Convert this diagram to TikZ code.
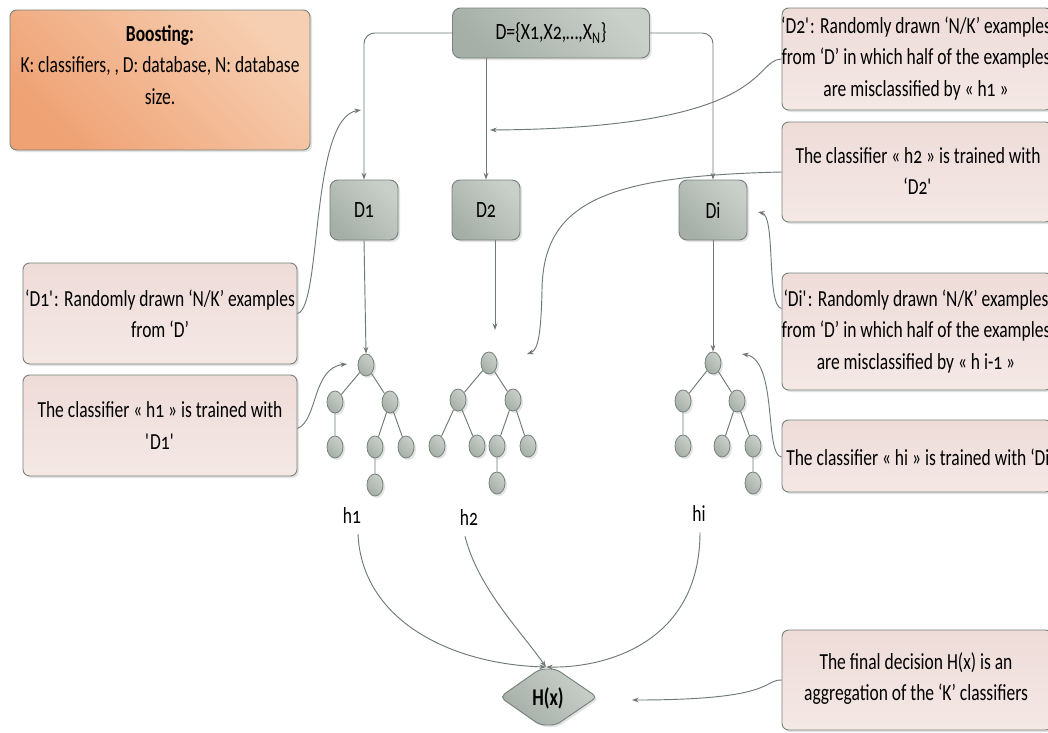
\documentclass[tikz,border=0pt]{standalone}
\usepackage{fontspec}
\setmainfont{Carlito}[FakeStretch=0.76, Numbers=OldStyle]
\usetikzlibrary{shapes.geometric,shadows,arrows.meta}

\definecolor{lineg}{HTML}{6F7A72}
\definecolor{edgeg}{HTML}{76827A}
\definecolor{greyA}{HTML}{A5AFA7}
\definecolor{greyB}{HTML}{C9D0CA}
\definecolor{pinkA}{HTML}{EEDCD8}
\definecolor{pinkB}{HTML}{F4E8E5}
\definecolor{orangeA}{HTML}{EFA274}
\definecolor{orangeB}{HTML}{F6CFB2}

\tikzset{
  txt/.style={font=\fontsize{17.25}{23.5}\selectfont, align=center, inner sep=0pt},
  shadowed/.style={drop shadow={opacity=0.22, shadow xshift=1.5pt, shadow yshift=-1.5pt}},
  greyfill/.style={shading=axis, left color=greyA, right color=greyB, shading angle=135},
  notebox/.style={draw=edgeg, line width=0.7pt, rounded corners=5pt, shadowed,
    top color=pinkA, bottom color=pinkB, minimum width=205.5pt, inner sep=0pt},
  rnotebox/.style={notebox, minimum width=202.5pt},
  databox/.style={draw=edgeg, line width=0.7pt, rounded corners=6pt, shadowed, greyfill,
    minimum width=51pt, minimum height=45pt, inner sep=0pt,
    font=\fontsize{17.5}{20}\selectfont},
  leaf/.style={ellipse, draw=edgeg, line width=0.6pt, shadowed, greyfill,
    minimum width=12pt, minimum height=16.5pt, inner sep=0pt},
  conn/.style={draw=lineg, line width=0.7pt, -{Stealth[length=5pt,width=3.6pt]}},
  branch/.style={draw=lineg, line width=0.7pt},
}

\begin{document}
\begin{tikzpicture}[x=0.75pt, y=-0.75pt]
\useasboundingbox (0,0) rectangle (1048,732);
\clip (0,0) rectangle (1048,732);
\fill[white] (0,0) rectangle (1048,732);

% legend box
\node[draw=edgeg, line width=0.7pt, rounded corners=5pt, shadowed, shading=axis,
  left color=orangeA, right color=orangeB, shading angle=135,
  minimum width=225pt, minimum height=105pt] (legend) at (160,80) {};
\node[txt] (legendtxt) at (160,65) {\textbf{Boosting:}\\K: classifiers, , D: database, N: database\\size.};

% data set and its samples
\node[databox, minimum width=147.75pt, minimum height=37.5pt] (Dall) at (551,33) {D=\{X1,X2,…,X\textsubscript{N}\}};
\node[databox] (D1) at (364,210) {D1};
\node[databox] (D2) at (486,210) {D2};
\node[databox] (Di) at (713,210) {Di};

\draw[conn, rounded corners=8pt] (Dall.west) -| (D1.north);
\draw[conn, rounded corners=8pt] (Dall.east) -| (Di.north);
\draw[conn] (Dall.south -| D2.north) -- (D2.north);

% tree h1
\node[leaf] (a0) at (366,365) {};
\node[leaf] (a1) at (335,402) {};
\node[leaf] (a2) at (390,402) {};
\node[leaf] (a3) at (335,447) {};
\node[leaf] (a4) at (375,447) {};
\node[leaf] (a5) at (406,447) {};
\node[leaf] (a6) at (375,485) {};
\draw[branch] (a0) -- (a1) (a0) -- (a2) (a1) -- (a3) (a2) -- (a4) (a2) -- (a5) (a4) -- (a6);

% tree h2
\node[leaf] (b0) at (489,363) {};
\node[leaf] (b1) at (458,400) {};
\node[leaf] (b2) at (513,400) {};
\node[leaf] (b3) at (437,446) {};
\node[leaf] (b4) at (477,446) {};
\node[leaf] (b5) at (497,446) {};
\node[leaf] (b6) at (528,446) {};
\node[leaf] (b7) at (497,483) {};
\draw[branch] (b0) -- (b1) (b0) -- (b2) (b1) -- (b3) (b1) -- (b4) (b2) -- (b5) (b2) -- (b6) (b5) -- (b7);

% tree hi
\node[leaf] (c0) at (713,363) {};
\node[leaf] (c1) at (683,401) {};
\node[leaf] (c2) at (737,401) {};
\node[leaf] (c3) at (683,446) {};
\node[leaf] (c4) at (722,446) {};
\node[leaf] (c5) at (753,446) {};
\node[leaf] (c6) at (753,483) {};
\draw[branch] (c0) -- (c1) (c0) -- (c2) (c1) -- (c3) (c2) -- (c4) (c2) -- (c5) (c5) -- (c6);

% samples feed the trees
\coordinate (t2in) at (495,330);
\draw[conn] (D1.south) -- (a0.north);
\draw[conn] (D2.south -| t2in) -- (t2in);
\draw[conn] (Di.south) -- (c0.north);

% classifier labels
\node[txt] (h1) at (352,516) {h1};
\node[txt] (h2) at (469,518) {h2};
\node[txt] (hi) at (699,514) {hi};

% aggregation: flattened hexagon
\path[draw=edgeg, line width=0.7pt, rounded corners=4pt, shadowed, greyfill]
  (500,697) -- (540,669) -- (556,669) -- (597,697) -- (556,725) -- (540,725) -- cycle;
\node[font=\fontsize{18}{20}\selectfont\bfseries, inner sep=0pt] (H) at (548,698) {H(x)};
\coordinate (Htop) at (546,667);
\coordinate (Hright) at (632,700);

\draw[conn] (h1.south) ++(6,10) .. controls (362,620) and (450,664) .. (Htop);
\draw[conn] (h2.south) ++(-4,10) .. controls (478,588) and (520,630) .. (Htop);
\draw[conn] (hi.south) ++(1,10) .. controls (700,640) and (610,668) .. (Htop);

% explanatory notes, left
\node[notebox, minimum height=75.75pt] (n1) at (160,313.5) {};
\node[txt] (n1t) at (160,313.5) {‘D1\textquotesingle: Randomly drawn ‘N/K’ examples\\from ‘D’};
\node[notebox, minimum height=75.75pt] (n2) at (160,425.5) {};
\node[txt] (n2t) at (160,425.5) {The classifier « h1 » is trained with\\\textquotesingle D1\textquotesingle};

% explanatory notes, right (they run past the right margin)
\node[rnotebox, minimum height=76.5pt] (n3) at (917,59) {};
\node[txt] (n3t) at (916,58.5) {‘D2\textquotesingle: Randomly drawn ‘N/K’ examples\\from ‘D’ in which half of the examples\\are misclassified by « h1 »};
\node[rnotebox, minimum height=75pt] (n4) at (917,172) {};
\node[txt] (n4t) at (918,171) {The classifier « h2 » is trained with\\‘D2\textquotesingle};
\node[rnotebox, minimum height=87.75pt] (n5) at (917,331.5) {};
\node[txt] (n5t) at (916,331.5) {‘Di\textquotesingle: Randomly drawn ‘N/K’ examples\\from ‘D’ in which half of the examples\\are misclassified by « h i-1 »};
\node[rnotebox, minimum height=54pt] (n6) at (917,456) {};
\node[txt, anchor=west] (n6t) at (786,457) {The classifier « hi » is trained with ‘Di’};
\node[rnotebox, minimum height=75pt] (n7) at (917,680) {};
\node[txt] (n7t) at (916,678.5) {The final decision H(x) is an\\aggregation of the ‘K’ classifiers};

% note connectors
\coordinate (p1) at (361,110);
\coordinate (p2) at (347,364);
\coordinate (p3) at (490,130);
\coordinate (p4) at (527,354);
\coordinate (p5) at (758,212);
\coordinate (p6) at (742,354);
\draw[conn] (n1.east) .. controls (322,308) and (310,118) .. (p1);
\draw[conn] (n2.east) ++(0,3) .. controls (318,420) and (312,368) .. (p2);
\draw[conn] (n3.west) .. controls (752,60) and (772,128) .. (p3);
\draw[conn] (n4.west) .. controls (610,176) and (543,200) .. (542,290) .. controls (541,335) and (538,350) .. (p4);
\draw[conn] (n5.west) ++(0,-23) .. controls (766,306) and (776,216) .. (p5);
\draw[conn] (n6.west) ++(0,1) .. controls (764,455) and (778,360) .. (p6);
\draw[conn] (n7.west) .. controls (762,680) and (776,700) .. (Hright);
\end{tikzpicture}
\end{document}
